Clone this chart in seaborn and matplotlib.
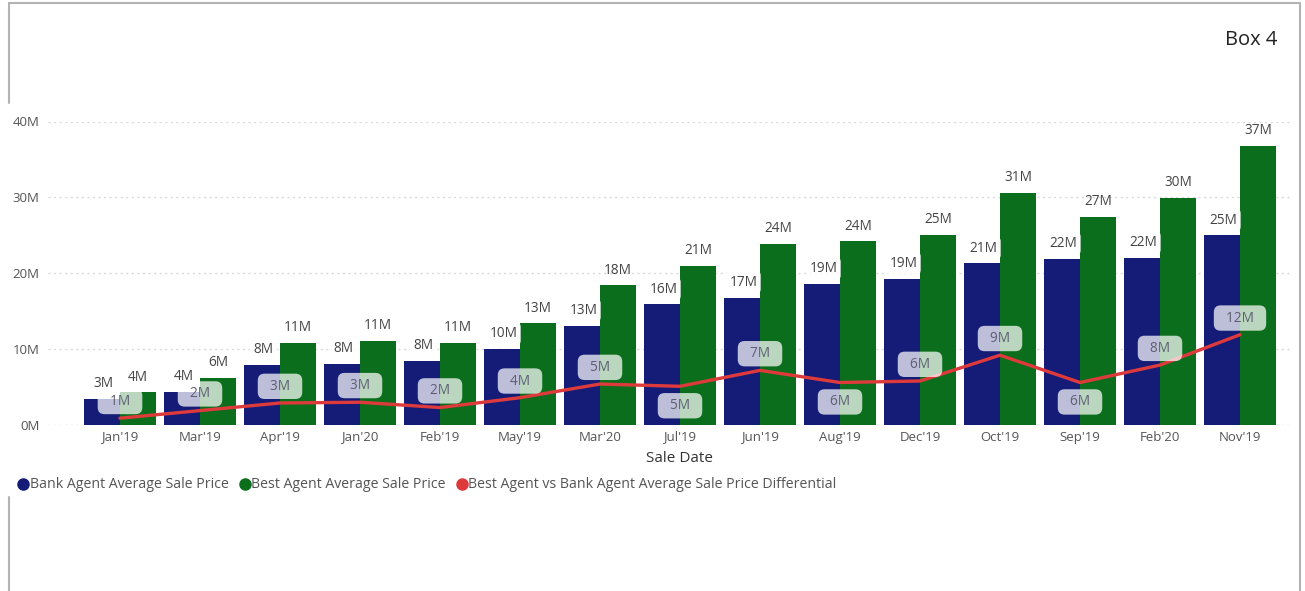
import numpy as np
import pandas as pd
import matplotlib
matplotlib.use("Agg")
import matplotlib.pyplot as plt
from matplotlib.lines import Line2D
import seaborn as sns

# ---- data (values in millions) ----
sale_dates = ["Jan'19", "Mar'19", "Apr'19", "Jan'20", "Feb'19", "May'19", "Mar'20",
              "Jul'19", "Jun'19", "Aug'19", "Dec'19", "Oct'19", "Sep'19", "Feb'20", "Nov'19"]
bank_avg = [3.4, 4.4, 7.9, 8.1, 8.4, 10.0, 13.1, 15.9, 16.8, 18.6, 19.3, 21.3, 21.9, 22.0, 25.0]
best_avg = [4.3, 6.2, 10.8, 11.1, 10.8, 13.4, 18.4, 21.0, 23.9, 24.2, 25.1, 30.6, 27.4, 29.9, 36.8]
differential = [0.9, 1.9, 2.9, 3.0, 2.3, 3.6, 5.4, 5.1, 7.2, 5.6, 5.8, 9.2, 5.6, 7.9, 11.9]
y_ticks = [0, 10, 20, 30, 40]

series_names = ["Bank Agent Average Sale Price", "Best Agent Average Sale Price",
                "Best Agent vs Bank Agent Average Sale Price Differential"]

BLUE = "#141c78"
GREEN = "#0b6e1c"
RED = "#de3a3c"
TXT = "#555555"

sns.set_theme(style="white")
plt.rcParams["font.family"] = ["Open Sans", "DejaVu Sans"]

df = pd.DataFrame({
    "Sale Date": sale_dates * 2,
    "value": bank_avg + best_avg,
    "series": [series_names[0]] * len(sale_dates) + [series_names[1]] * len(sale_dates),
})

fig = plt.figure(figsize=(13.05, 5.91), dpi=100)
W, H = 1305, 591
ax = fig.add_axes([48 / W, 1 - 425 / H, (1290 - 48) / W, (425 - 121.5) / H])

sns.barplot(data=df, x="Sale Date", y="value", hue="series", order=sale_dates,
            hue_order=series_names[:2], palette=[BLUE, GREEN], width=0.9,
            saturation=1, legend=False, ax=ax, zorder=2, linewidth=0, edgecolor="none")

x = np.arange(len(sale_dates))
sns.lineplot(x=x, y=differential, color=RED, linewidth=2.4, ax=ax, zorder=4)

ax.set_ylim(0, 40)
ax.set_xlim(-0.9, 14.625)
ax.set_yticks(y_ticks)
ax.set_yticklabels([f"{t}M" for t in y_ticks])
for s in ax.spines.values():
    s.set_visible(False)
ax.grid(axis="y", linestyle=(0, (1.5, 2.5)), color="#d9d9d9", linewidth=1.0, zorder=0)
ax.set_axisbelow(True)
ax.tick_params(axis="both", length=0, labelsize=9.5, labelcolor=TXT)
ax.tick_params(axis="y", pad=6)
ax.tick_params(axis="x", pad=4)
ax.set_ylabel("")
ax.set_xlabel("Sale Date", fontsize=11, color="#333333")
ax.xaxis.set_label_coords((680 - 48) / (1290 - 48), -0.085)


def fmt(v):
    return f"{int(v + 0.5)}M"


# bar value labels
for i, (b, g) in enumerate(zip(bank_avg, best_avg)):
    ax.annotate(fmt(b), (i - 0.225, b), xytext=(1, 11), textcoords="offset points",
                ha="center", va="center", fontsize=9.8, color="#444444", zorder=6,
                bbox=dict(boxstyle="round,pad=0.25,rounding_size=0.3",
                          fc="white", ec="none", alpha=0.8))
    ax.annotate(fmt(g), (i + 0.225, g), xytext=(0, 11), textcoords="offset points",
                ha="center", va="center", fontsize=9.8, color="#444444", zorder=6)

# differential labels: most sit above the line, dips get theirs below
label_below = [False, False, False, False, False, False, False,
               True, False, True, False, False, True, False, False]
for i, (d, below) in enumerate(zip(differential, label_below)):
    dy = -14 if below else 12
    ax.annotate(f"  {fmt(d)}  ", (i, d), xytext=(0, dy), textcoords="offset points",
                ha="center", va="center", fontsize=9.8, color="#5e5e72", zorder=7,
                bbox=dict(boxstyle="round,pad=0.38,rounding_size=0.5",
                          fc="white", ec="none", alpha=0.72))

# legend
handles = [Line2D([], [], marker="o", linestyle="none", markersize=8,
                  markerfacecolor=c, markeredgecolor=c) for c in (BLUE, GREEN, RED)]
leg = fig.legend(handles, series_names, loc="center left",
                 bbox_to_anchor=(9 / W, 1 - 485 / H), ncol=3, frameon=False,
                 fontsize=10.2, handletextpad=-0.15, columnspacing=0.55,
                 handlelength=1.2, borderaxespad=0)
for t in leg.get_texts():
    t.set_color(TXT)

fig.text(1277 / W, 1 - 40 / H, "Box 4", ha="right", va="center",
         fontsize=14.5, color="#222222")

# frame around the visual
frame = "#b3b3b3"
fig.add_artist(Line2D([9 / W, 1300 / W], [1 - 3 / H, 1 - 3 / H], color=frame, lw=1.5))
fig.add_artist(Line2D([9 / W, 9 / W], [1 - 3 / H, 1 - 103 / H], color=frame, lw=1.5))
fig.add_artist(Line2D([9 / W, 9 / W], [1 - 497 / H, 0], color=frame, lw=1.5))
fig.add_artist(Line2D([1300 / W, 1300 / W], [1 - 3 / H, 0], color=frame, lw=1.5))

fig.savefig("out.png", dpi=100, facecolor="white")
